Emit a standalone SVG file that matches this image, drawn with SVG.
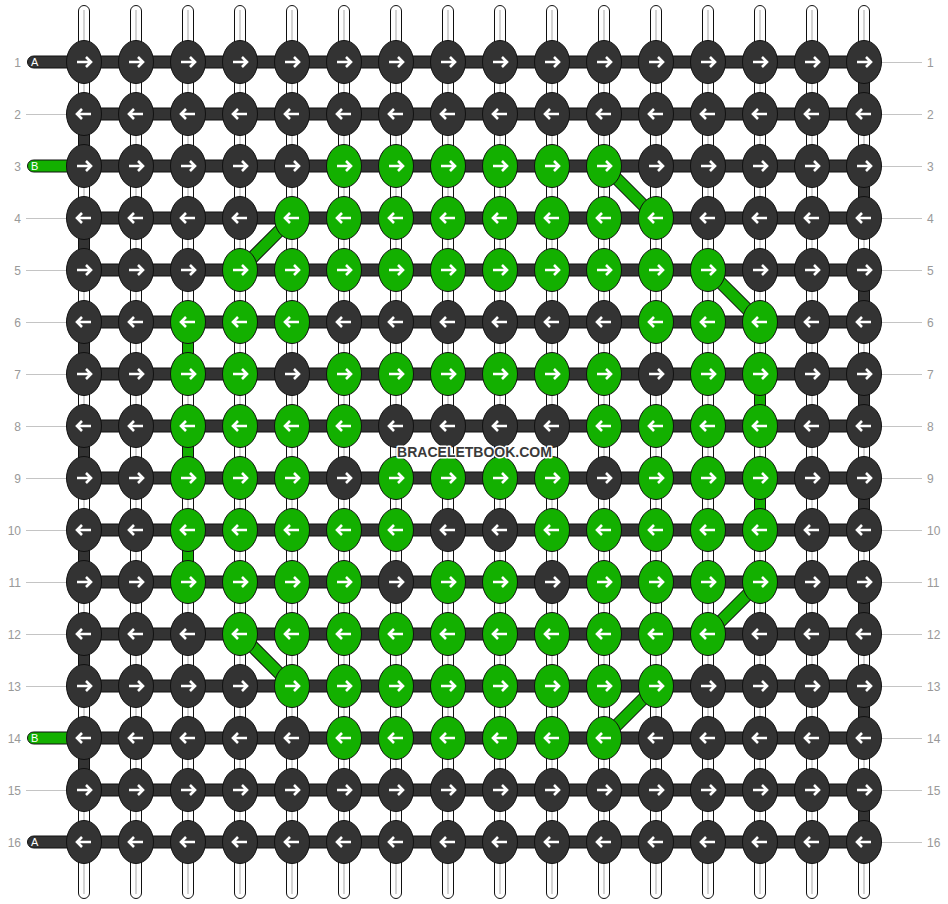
<svg xmlns="http://www.w3.org/2000/svg" xmlns:xlink="http://www.w3.org/1999/xlink" width="948" height="904" viewBox="0 0 948 904">
<style>
.str{fill:#fff;stroke:#111;stroke-width:1}
.strc{stroke:#d4d4d4;stroke-width:2}
.hb{fill:#333;stroke:#111;stroke-width:1}
.vd{fill:#333;stroke:#111;stroke-width:1}
.vg{fill:#13b000;stroke:#111;stroke-width:1}
.dgo{stroke:#111;stroke-width:13}
.dgi{stroke:#13b000;stroke-width:11}
.kd{fill:#333;stroke:#111;stroke-width:1}
.kg{fill:#13b000;stroke:#111;stroke-width:1}
.ar{fill:none;stroke:#fff;stroke-width:2.6}
.lbl{font-family:"Liberation Sans",Arial,sans-serif;font-size:12px;fill:#999}
.ln{stroke:#c4c4c4;stroke-width:1}
.tabt{font-family:"Liberation Sans",Arial,sans-serif;font-size:11px;fill:#fff}
.wm{font-family:"Liberation Sans",Arial,sans-serif;font-size:14px;font-weight:bold;fill:#3a3a3a;stroke:#fff;stroke-width:3;paint-order:stroke;stroke-linejoin:round}
</style>
<defs>
<g id="dR"><ellipse class="kd" rx="17.5" ry="21.5"/><path class="ar" d="M-7,0H7M2,-5L7,0L2,5"/></g>
<g id="dL"><ellipse class="kd" rx="17.5" ry="21.5"/><path class="ar" d="M7,0H-7M-2,-5L-7,0L-2,5"/></g>
<g id="gR"><ellipse class="kg" rx="17.5" ry="21.5"/><path class="ar" d="M-7,0H7M2,-5L7,0L2,5"/></g>
<g id="gL"><ellipse class="kg" rx="17.5" ry="21.5"/><path class="ar" d="M7,0H-7M-2,-5L-7,0L-2,5"/></g>
<g id="sv"><rect class="str" x="-5.5" y="5.5" width="11" height="893" rx="5.5"/><line class="strc" x1="0" y1="10" x2="0" y2="894"/></g>
</defs>
<rect width="948" height="904" fill="#fff"/>
<g id="strings">
<use href="#sv" x="84"/><use href="#sv" x="136"/><use href="#sv" x="188"/><use href="#sv" x="240"/><use href="#sv" x="292"/><use href="#sv" x="344"/><use href="#sv" x="396"/><use href="#sv" x="448"/><use href="#sv" x="500"/><use href="#sv" x="552"/><use href="#sv" x="604"/><use href="#sv" x="656"/><use href="#sv" x="708"/><use href="#sv" x="760"/><use href="#sv" x="812"/><use href="#sv" x="864"/>
</g>
<g id="connectors">
<g id="rowbars">
<rect class="hb" x="84" y="56" width="780" height="12"/><rect class="hb" x="84" y="108" width="780" height="12"/><rect class="hb" x="84" y="160" width="780" height="12"/><rect class="hb" x="84" y="212" width="780" height="12"/><rect class="hb" x="84" y="264" width="780" height="12"/><rect class="hb" x="84" y="316" width="780" height="12"/><rect class="hb" x="84" y="368" width="780" height="12"/><rect class="hb" x="84" y="420" width="780" height="12"/><rect class="hb" x="84" y="472" width="780" height="12"/><rect class="hb" x="84" y="524" width="780" height="12"/><rect class="hb" x="84" y="576" width="780" height="12"/><rect class="hb" x="84" y="628" width="780" height="12"/><rect class="hb" x="84" y="680" width="780" height="12"/><rect class="hb" x="84" y="732" width="780" height="12"/><rect class="hb" x="84" y="784" width="780" height="12"/><rect class="hb" x="84" y="836" width="780" height="12"/>
</g>
<g id="edges">
<rect class="vd" x="78.5" y="114" width="11" height="52"/><rect class="vd" x="78.5" y="218" width="11" height="52"/><rect class="vd" x="78.5" y="322" width="11" height="52"/><rect class="vd" x="78.5" y="426" width="11" height="52"/><rect class="vd" x="78.5" y="530" width="11" height="52"/><rect class="vd" x="78.5" y="634" width="11" height="52"/><rect class="vd" x="78.5" y="738" width="11" height="52"/>
<rect class="vd" x="858.5" y="62" width="11" height="52"/><rect class="vd" x="858.5" y="166" width="11" height="52"/><rect class="vd" x="858.5" y="270" width="11" height="52"/><rect class="vd" x="858.5" y="374" width="11" height="52"/><rect class="vd" x="858.5" y="478" width="11" height="52"/><rect class="vd" x="858.5" y="582" width="11" height="52"/><rect class="vd" x="858.5" y="686" width="11" height="52"/><rect class="vd" x="858.5" y="790" width="11" height="52"/>
<rect class="vg" x="182.5" y="322" width="11" height="52"/><rect class="vg" x="182.5" y="426" width="11" height="52"/><rect class="vg" x="182.5" y="530" width="11" height="52"/>
<rect class="vg" x="754.5" y="374" width="11" height="52"/><rect class="vg" x="754.5" y="478" width="11" height="52"/>
</g>
<g id="diagonals">
<line class="dgo" x1="604" y1="166" x2="656" y2="218"/><line class="dgi" x1="604" y1="166" x2="656" y2="218"/>
<line class="dgo" x1="292" y1="218" x2="240" y2="270"/><line class="dgi" x1="292" y1="218" x2="240" y2="270"/>
<line class="dgo" x1="708" y1="270" x2="760" y2="322"/><line class="dgi" x1="708" y1="270" x2="760" y2="322"/>
<line class="dgo" x1="760" y1="582" x2="708" y2="634"/><line class="dgi" x1="760" y1="582" x2="708" y2="634"/>
<line class="dgo" x1="240" y1="634" x2="292" y2="686"/><line class="dgi" x1="240" y1="634" x2="292" y2="686"/>
<line class="dgo" x1="656" y1="686" x2="604" y2="738"/><line class="dgi" x1="656" y1="686" x2="604" y2="738"/>
</g>
</g>
<g id="tabs">
<g id="tabA1"><rect class="hb" x="27.5" y="56" width="60" height="12" rx="6"/><text class="tabt" x="31" y="66">A</text></g>
<g id="tabB3"><rect class="vg" x="27.5" y="160" width="60" height="12" rx="6"/><text class="tabt" x="31" y="170">B</text></g>
<g id="tabB14"><rect class="vg" x="27.5" y="732" width="60" height="12" rx="6"/><text class="tabt" x="31" y="742">B</text></g>
<g id="tabA16"><rect class="hb" x="27.5" y="836" width="60" height="12" rx="6"/><text class="tabt" x="31" y="846">A</text></g>
</g>
<g id="labels">
<g id="lines" class="ln">
<line x1="26" y1="114.5" x2="67" y2="114.5"/><line x1="26" y1="218.5" x2="67" y2="218.5"/><line x1="26" y1="270.5" x2="67" y2="270.5"/><line x1="26" y1="322.5" x2="67" y2="322.5"/><line x1="26" y1="374.5" x2="67" y2="374.5"/><line x1="26" y1="426.5" x2="67" y2="426.5"/><line x1="26" y1="478.5" x2="67" y2="478.5"/><line x1="26" y1="530.5" x2="67" y2="530.5"/><line x1="26" y1="582.5" x2="67" y2="582.5"/><line x1="26" y1="634.5" x2="67" y2="634.5"/><line x1="26" y1="686.5" x2="67" y2="686.5"/><line x1="26" y1="790.5" x2="67" y2="790.5"/>
<line x1="881" y1="62.5" x2="922" y2="62.5"/><line x1="881" y1="114.5" x2="922" y2="114.5"/><line x1="881" y1="166.5" x2="922" y2="166.5"/><line x1="881" y1="218.5" x2="922" y2="218.5"/><line x1="881" y1="270.5" x2="922" y2="270.5"/><line x1="881" y1="322.5" x2="922" y2="322.5"/><line x1="881" y1="374.5" x2="922" y2="374.5"/><line x1="881" y1="426.5" x2="922" y2="426.5"/><line x1="881" y1="478.5" x2="922" y2="478.5"/><line x1="881" y1="530.5" x2="922" y2="530.5"/><line x1="881" y1="582.5" x2="922" y2="582.5"/><line x1="881" y1="634.5" x2="922" y2="634.5"/><line x1="881" y1="686.5" x2="922" y2="686.5"/><line x1="881" y1="738.5" x2="922" y2="738.5"/><line x1="881" y1="790.5" x2="922" y2="790.5"/><line x1="881" y1="842.5" x2="922" y2="842.5"/>
</g>
<g id="leftnums" class="lbl" text-anchor="end">
<text x="21" y="66.5">1</text><text x="21" y="118.5">2</text><text x="21" y="170.5">3</text><text x="21" y="222.5">4</text><text x="21" y="274.5">5</text><text x="21" y="326.5">6</text><text x="21" y="378.5">7</text><text x="21" y="430.5">8</text><text x="21" y="482.5">9</text><text x="21" y="534.5">10</text><text x="21" y="586.5">11</text><text x="21" y="638.5">12</text><text x="21" y="690.5">13</text><text x="21" y="742.5">14</text><text x="21" y="794.5">15</text><text x="21" y="846.5">16</text>
</g>
<g id="rightnums" class="lbl">
<text x="927" y="66.5">1</text><text x="927" y="118.5">2</text><text x="927" y="170.5">3</text><text x="927" y="222.5">4</text><text x="927" y="274.5">5</text><text x="927" y="326.5">6</text><text x="927" y="378.5">7</text><text x="927" y="430.5">8</text><text x="927" y="482.5">9</text><text x="927" y="534.5">10</text><text x="927" y="586.5">11</text><text x="927" y="638.5">12</text><text x="927" y="690.5">13</text><text x="927" y="742.5">14</text><text x="927" y="794.5">15</text><text x="927" y="846.5">16</text>
</g>
</g>
<g id="knots">
<g id="k1-1"><use href="#dR" x="84" y="62"/></g><g id="k1-2"><use href="#dR" x="136" y="62"/></g><g id="k1-3"><use href="#dR" x="188" y="62"/></g><g id="k1-4"><use href="#dR" x="240" y="62"/></g><g id="k1-5"><use href="#dR" x="292" y="62"/></g><g id="k1-6"><use href="#dR" x="344" y="62"/></g><g id="k1-7"><use href="#dR" x="396" y="62"/></g><g id="k1-8"><use href="#dR" x="448" y="62"/></g><g id="k1-9"><use href="#dR" x="500" y="62"/></g><g id="k1-10"><use href="#dR" x="552" y="62"/></g><g id="k1-11"><use href="#dR" x="604" y="62"/></g><g id="k1-12"><use href="#dR" x="656" y="62"/></g><g id="k1-13"><use href="#dR" x="708" y="62"/></g><g id="k1-14"><use href="#dR" x="760" y="62"/></g><g id="k1-15"><use href="#dR" x="812" y="62"/></g><g id="k1-16"><use href="#dR" x="864" y="62"/></g>
<g id="k2-1"><use href="#dL" x="84" y="114"/></g><g id="k2-2"><use href="#dL" x="136" y="114"/></g><g id="k2-3"><use href="#dL" x="188" y="114"/></g><g id="k2-4"><use href="#dL" x="240" y="114"/></g><g id="k2-5"><use href="#dL" x="292" y="114"/></g><g id="k2-6"><use href="#dL" x="344" y="114"/></g><g id="k2-7"><use href="#dL" x="396" y="114"/></g><g id="k2-8"><use href="#dL" x="448" y="114"/></g><g id="k2-9"><use href="#dL" x="500" y="114"/></g><g id="k2-10"><use href="#dL" x="552" y="114"/></g><g id="k2-11"><use href="#dL" x="604" y="114"/></g><g id="k2-12"><use href="#dL" x="656" y="114"/></g><g id="k2-13"><use href="#dL" x="708" y="114"/></g><g id="k2-14"><use href="#dL" x="760" y="114"/></g><g id="k2-15"><use href="#dL" x="812" y="114"/></g><g id="k2-16"><use href="#dL" x="864" y="114"/></g>
<g id="k3-1"><use href="#dR" x="84" y="166"/></g><g id="k3-2"><use href="#dR" x="136" y="166"/></g><g id="k3-3"><use href="#dR" x="188" y="166"/></g><g id="k3-4"><use href="#dR" x="240" y="166"/></g><g id="k3-5"><use href="#dR" x="292" y="166"/></g><g id="k3-6"><use href="#gR" x="344" y="166"/></g><g id="k3-7"><use href="#gR" x="396" y="166"/></g><g id="k3-8"><use href="#gR" x="448" y="166"/></g><g id="k3-9"><use href="#gR" x="500" y="166"/></g><g id="k3-10"><use href="#gR" x="552" y="166"/></g><g id="k3-11"><use href="#gR" x="604" y="166"/></g><g id="k3-12"><use href="#dR" x="656" y="166"/></g><g id="k3-13"><use href="#dR" x="708" y="166"/></g><g id="k3-14"><use href="#dR" x="760" y="166"/></g><g id="k3-15"><use href="#dR" x="812" y="166"/></g><g id="k3-16"><use href="#dR" x="864" y="166"/></g>
<g id="k4-1"><use href="#dL" x="84" y="218"/></g><g id="k4-2"><use href="#dL" x="136" y="218"/></g><g id="k4-3"><use href="#dL" x="188" y="218"/></g><g id="k4-4"><use href="#dL" x="240" y="218"/></g><g id="k4-5"><use href="#gL" x="292" y="218"/></g><g id="k4-6"><use href="#gL" x="344" y="218"/></g><g id="k4-7"><use href="#gL" x="396" y="218"/></g><g id="k4-8"><use href="#gL" x="448" y="218"/></g><g id="k4-9"><use href="#gL" x="500" y="218"/></g><g id="k4-10"><use href="#gL" x="552" y="218"/></g><g id="k4-11"><use href="#gL" x="604" y="218"/></g><g id="k4-12"><use href="#gL" x="656" y="218"/></g><g id="k4-13"><use href="#dL" x="708" y="218"/></g><g id="k4-14"><use href="#dL" x="760" y="218"/></g><g id="k4-15"><use href="#dL" x="812" y="218"/></g><g id="k4-16"><use href="#dL" x="864" y="218"/></g>
<g id="k5-1"><use href="#dR" x="84" y="270"/></g><g id="k5-2"><use href="#dR" x="136" y="270"/></g><g id="k5-3"><use href="#dR" x="188" y="270"/></g><g id="k5-4"><use href="#gR" x="240" y="270"/></g><g id="k5-5"><use href="#gR" x="292" y="270"/></g><g id="k5-6"><use href="#gR" x="344" y="270"/></g><g id="k5-7"><use href="#gR" x="396" y="270"/></g><g id="k5-8"><use href="#gR" x="448" y="270"/></g><g id="k5-9"><use href="#gR" x="500" y="270"/></g><g id="k5-10"><use href="#gR" x="552" y="270"/></g><g id="k5-11"><use href="#gR" x="604" y="270"/></g><g id="k5-12"><use href="#gR" x="656" y="270"/></g><g id="k5-13"><use href="#gR" x="708" y="270"/></g><g id="k5-14"><use href="#dR" x="760" y="270"/></g><g id="k5-15"><use href="#dR" x="812" y="270"/></g><g id="k5-16"><use href="#dR" x="864" y="270"/></g>
<g id="k6-1"><use href="#dL" x="84" y="322"/></g><g id="k6-2"><use href="#dL" x="136" y="322"/></g><g id="k6-3"><use href="#gL" x="188" y="322"/></g><g id="k6-4"><use href="#gL" x="240" y="322"/></g><g id="k6-5"><use href="#gL" x="292" y="322"/></g><g id="k6-6"><use href="#dL" x="344" y="322"/></g><g id="k6-7"><use href="#dL" x="396" y="322"/></g><g id="k6-8"><use href="#dL" x="448" y="322"/></g><g id="k6-9"><use href="#dL" x="500" y="322"/></g><g id="k6-10"><use href="#dL" x="552" y="322"/></g><g id="k6-11"><use href="#dL" x="604" y="322"/></g><g id="k6-12"><use href="#gL" x="656" y="322"/></g><g id="k6-13"><use href="#gL" x="708" y="322"/></g><g id="k6-14"><use href="#gL" x="760" y="322"/></g><g id="k6-15"><use href="#dL" x="812" y="322"/></g><g id="k6-16"><use href="#dL" x="864" y="322"/></g>
<g id="k7-1"><use href="#dR" x="84" y="374"/></g><g id="k7-2"><use href="#dR" x="136" y="374"/></g><g id="k7-3"><use href="#gR" x="188" y="374"/></g><g id="k7-4"><use href="#gR" x="240" y="374"/></g><g id="k7-5"><use href="#dR" x="292" y="374"/></g><g id="k7-6"><use href="#gR" x="344" y="374"/></g><g id="k7-7"><use href="#gR" x="396" y="374"/></g><g id="k7-8"><use href="#gR" x="448" y="374"/></g><g id="k7-9"><use href="#gR" x="500" y="374"/></g><g id="k7-10"><use href="#gR" x="552" y="374"/></g><g id="k7-11"><use href="#gR" x="604" y="374"/></g><g id="k7-12"><use href="#dR" x="656" y="374"/></g><g id="k7-13"><use href="#gR" x="708" y="374"/></g><g id="k7-14"><use href="#gR" x="760" y="374"/></g><g id="k7-15"><use href="#dR" x="812" y="374"/></g><g id="k7-16"><use href="#dR" x="864" y="374"/></g>
<g id="k8-1"><use href="#dL" x="84" y="426"/></g><g id="k8-2"><use href="#dL" x="136" y="426"/></g><g id="k8-3"><use href="#gL" x="188" y="426"/></g><g id="k8-4"><use href="#gL" x="240" y="426"/></g><g id="k8-5"><use href="#gL" x="292" y="426"/></g><g id="k8-6"><use href="#gL" x="344" y="426"/></g><g id="k8-7"><use href="#dL" x="396" y="426"/></g><g id="k8-8"><use href="#dL" x="448" y="426"/></g><g id="k8-9"><use href="#dL" x="500" y="426"/></g><g id="k8-10"><use href="#dL" x="552" y="426"/></g><g id="k8-11"><use href="#gL" x="604" y="426"/></g><g id="k8-12"><use href="#gL" x="656" y="426"/></g><g id="k8-13"><use href="#gL" x="708" y="426"/></g><g id="k8-14"><use href="#gL" x="760" y="426"/></g><g id="k8-15"><use href="#dL" x="812" y="426"/></g><g id="k8-16"><use href="#dL" x="864" y="426"/></g>
<g id="k9-1"><use href="#dR" x="84" y="478"/></g><g id="k9-2"><use href="#dR" x="136" y="478"/></g><g id="k9-3"><use href="#gR" x="188" y="478"/></g><g id="k9-4"><use href="#gR" x="240" y="478"/></g><g id="k9-5"><use href="#gR" x="292" y="478"/></g><g id="k9-6"><use href="#dR" x="344" y="478"/></g><g id="k9-7"><use href="#gR" x="396" y="478"/></g><g id="k9-8"><use href="#gR" x="448" y="478"/></g><g id="k9-9"><use href="#gR" x="500" y="478"/></g><g id="k9-10"><use href="#gR" x="552" y="478"/></g><g id="k9-11"><use href="#dR" x="604" y="478"/></g><g id="k9-12"><use href="#gR" x="656" y="478"/></g><g id="k9-13"><use href="#gR" x="708" y="478"/></g><g id="k9-14"><use href="#gR" x="760" y="478"/></g><g id="k9-15"><use href="#dR" x="812" y="478"/></g><g id="k9-16"><use href="#dR" x="864" y="478"/></g>
<g id="k10-1"><use href="#dL" x="84" y="530"/></g><g id="k10-2"><use href="#dL" x="136" y="530"/></g><g id="k10-3"><use href="#gL" x="188" y="530"/></g><g id="k10-4"><use href="#gL" x="240" y="530"/></g><g id="k10-5"><use href="#gL" x="292" y="530"/></g><g id="k10-6"><use href="#gL" x="344" y="530"/></g><g id="k10-7"><use href="#gL" x="396" y="530"/></g><g id="k10-8"><use href="#dL" x="448" y="530"/></g><g id="k10-9"><use href="#dL" x="500" y="530"/></g><g id="k10-10"><use href="#gL" x="552" y="530"/></g><g id="k10-11"><use href="#gL" x="604" y="530"/></g><g id="k10-12"><use href="#gL" x="656" y="530"/></g><g id="k10-13"><use href="#gL" x="708" y="530"/></g><g id="k10-14"><use href="#gL" x="760" y="530"/></g><g id="k10-15"><use href="#dL" x="812" y="530"/></g><g id="k10-16"><use href="#dL" x="864" y="530"/></g>
<g id="k11-1"><use href="#dR" x="84" y="582"/></g><g id="k11-2"><use href="#dR" x="136" y="582"/></g><g id="k11-3"><use href="#gR" x="188" y="582"/></g><g id="k11-4"><use href="#gR" x="240" y="582"/></g><g id="k11-5"><use href="#gR" x="292" y="582"/></g><g id="k11-6"><use href="#gR" x="344" y="582"/></g><g id="k11-7"><use href="#dR" x="396" y="582"/></g><g id="k11-8"><use href="#gR" x="448" y="582"/></g><g id="k11-9"><use href="#gR" x="500" y="582"/></g><g id="k11-10"><use href="#dR" x="552" y="582"/></g><g id="k11-11"><use href="#gR" x="604" y="582"/></g><g id="k11-12"><use href="#gR" x="656" y="582"/></g><g id="k11-13"><use href="#gR" x="708" y="582"/></g><g id="k11-14"><use href="#gR" x="760" y="582"/></g><g id="k11-15"><use href="#dR" x="812" y="582"/></g><g id="k11-16"><use href="#dR" x="864" y="582"/></g>
<g id="k12-1"><use href="#dL" x="84" y="634"/></g><g id="k12-2"><use href="#dL" x="136" y="634"/></g><g id="k12-3"><use href="#dL" x="188" y="634"/></g><g id="k12-4"><use href="#gL" x="240" y="634"/></g><g id="k12-5"><use href="#gL" x="292" y="634"/></g><g id="k12-6"><use href="#gL" x="344" y="634"/></g><g id="k12-7"><use href="#gL" x="396" y="634"/></g><g id="k12-8"><use href="#gL" x="448" y="634"/></g><g id="k12-9"><use href="#gL" x="500" y="634"/></g><g id="k12-10"><use href="#gL" x="552" y="634"/></g><g id="k12-11"><use href="#gL" x="604" y="634"/></g><g id="k12-12"><use href="#gL" x="656" y="634"/></g><g id="k12-13"><use href="#gL" x="708" y="634"/></g><g id="k12-14"><use href="#dL" x="760" y="634"/></g><g id="k12-15"><use href="#dL" x="812" y="634"/></g><g id="k12-16"><use href="#dL" x="864" y="634"/></g>
<g id="k13-1"><use href="#dR" x="84" y="686"/></g><g id="k13-2"><use href="#dR" x="136" y="686"/></g><g id="k13-3"><use href="#dR" x="188" y="686"/></g><g id="k13-4"><use href="#dR" x="240" y="686"/></g><g id="k13-5"><use href="#gR" x="292" y="686"/></g><g id="k13-6"><use href="#gR" x="344" y="686"/></g><g id="k13-7"><use href="#gR" x="396" y="686"/></g><g id="k13-8"><use href="#gR" x="448" y="686"/></g><g id="k13-9"><use href="#gR" x="500" y="686"/></g><g id="k13-10"><use href="#gR" x="552" y="686"/></g><g id="k13-11"><use href="#gR" x="604" y="686"/></g><g id="k13-12"><use href="#gR" x="656" y="686"/></g><g id="k13-13"><use href="#dR" x="708" y="686"/></g><g id="k13-14"><use href="#dR" x="760" y="686"/></g><g id="k13-15"><use href="#dR" x="812" y="686"/></g><g id="k13-16"><use href="#dR" x="864" y="686"/></g>
<g id="k14-1"><use href="#dL" x="84" y="738"/></g><g id="k14-2"><use href="#dL" x="136" y="738"/></g><g id="k14-3"><use href="#dL" x="188" y="738"/></g><g id="k14-4"><use href="#dL" x="240" y="738"/></g><g id="k14-5"><use href="#dL" x="292" y="738"/></g><g id="k14-6"><use href="#gL" x="344" y="738"/></g><g id="k14-7"><use href="#gL" x="396" y="738"/></g><g id="k14-8"><use href="#gL" x="448" y="738"/></g><g id="k14-9"><use href="#gL" x="500" y="738"/></g><g id="k14-10"><use href="#gL" x="552" y="738"/></g><g id="k14-11"><use href="#gL" x="604" y="738"/></g><g id="k14-12"><use href="#dL" x="656" y="738"/></g><g id="k14-13"><use href="#dL" x="708" y="738"/></g><g id="k14-14"><use href="#dL" x="760" y="738"/></g><g id="k14-15"><use href="#dL" x="812" y="738"/></g><g id="k14-16"><use href="#dL" x="864" y="738"/></g>
<g id="k15-1"><use href="#dR" x="84" y="790"/></g><g id="k15-2"><use href="#dR" x="136" y="790"/></g><g id="k15-3"><use href="#dR" x="188" y="790"/></g><g id="k15-4"><use href="#dR" x="240" y="790"/></g><g id="k15-5"><use href="#dR" x="292" y="790"/></g><g id="k15-6"><use href="#dR" x="344" y="790"/></g><g id="k15-7"><use href="#dR" x="396" y="790"/></g><g id="k15-8"><use href="#dR" x="448" y="790"/></g><g id="k15-9"><use href="#dR" x="500" y="790"/></g><g id="k15-10"><use href="#dR" x="552" y="790"/></g><g id="k15-11"><use href="#dR" x="604" y="790"/></g><g id="k15-12"><use href="#dR" x="656" y="790"/></g><g id="k15-13"><use href="#dR" x="708" y="790"/></g><g id="k15-14"><use href="#dR" x="760" y="790"/></g><g id="k15-15"><use href="#dR" x="812" y="790"/></g><g id="k15-16"><use href="#dR" x="864" y="790"/></g>
<g id="k16-1"><use href="#dL" x="84" y="842"/></g><g id="k16-2"><use href="#dL" x="136" y="842"/></g><g id="k16-3"><use href="#dL" x="188" y="842"/></g><g id="k16-4"><use href="#dL" x="240" y="842"/></g><g id="k16-5"><use href="#dL" x="292" y="842"/></g><g id="k16-6"><use href="#dL" x="344" y="842"/></g><g id="k16-7"><use href="#dL" x="396" y="842"/></g><g id="k16-8"><use href="#dL" x="448" y="842"/></g><g id="k16-9"><use href="#dL" x="500" y="842"/></g><g id="k16-10"><use href="#dL" x="552" y="842"/></g><g id="k16-11"><use href="#dL" x="604" y="842"/></g><g id="k16-12"><use href="#dL" x="656" y="842"/></g><g id="k16-13"><use href="#dL" x="708" y="842"/></g><g id="k16-14"><use href="#dL" x="760" y="842"/></g><g id="k16-15"><use href="#dL" x="812" y="842"/></g><g id="k16-16"><use href="#dL" x="864" y="842"/></g>
</g>
<g id="watermark"><text class="wm" x="474.5" y="457" text-anchor="middle">BRACELETBOOK.COM</text></g>
</svg>
